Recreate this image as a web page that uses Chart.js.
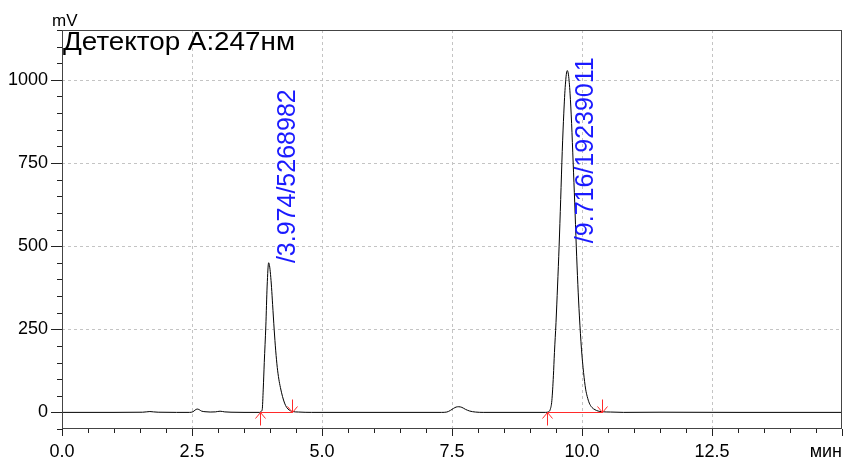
<!DOCTYPE html>
<html>
<head>
<meta charset="utf-8">
<script src="https://cdn.jsdelivr.net/npm/chart.js@4.4.1/dist/chart.umd.min.js"></script>
<style>
  html, body { margin: 0; padding: 0; background: #fff; }
</style>
</head>
<body>
<canvas id="chrom" width="844" height="459"></canvas>
<script>
// retention time, min
const times = [
  0.00, 1.00, 1.55, 1.62, 1.69, 1.76, 1.85, 2.20, 2.45, 2.52, 2.56, 2.60, 2.64, 2.68, 2.75, 2.85,
  2.95, 3.04, 3.13, 3.25, 3.50, 3.80, 3.83, 3.85, 3.87, 3.89, 3.92, 3.945, 3.974, 3.99, 4.01, 4.03,
  4.05, 4.08, 4.11, 4.14, 4.17, 4.20, 4.24, 4.28, 4.32, 4.37, 4.42, 4.55, 4.80, 7.30, 7.40, 7.47,
  7.53, 7.58, 7.63, 7.69, 7.76, 7.84, 7.95, 8.10, 9.30, 9.36, 9.39, 9.42, 9.45, 9.47, 9.50, 9.53,
  9.56, 9.59, 9.62, 9.65, 9.68, 9.716, 9.74, 9.77, 9.80, 9.83, 9.86, 9.89, 9.92, 9.95, 9.99, 10.03,
  10.07, 10.10, 10.14, 10.19, 10.25, 10.31, 10.38, 10.55, 10.80, 11.50, 12.00, 13.00, 15.00
];
// detector signal, mV
const signal = [
  0, 0, 0.5, 1.5, 2.5, 1.5, 0.5, 0, 0, 2, 7, 10, 8, 4, 2, 1,
  1.5, 3.5, 1.5, 0.5, 0, 0, 3, 8, 70, 150, 260, 380, 450, 442, 415, 375,
  325, 250, 185, 135, 100, 75, 48, 28, 15, 7, 3, 1, 0, 0, 1, 6,
  12, 16, 17, 15, 9, 4, 1, 0, 0, 2, 9, 35, 110, 180, 270, 380,
  500, 640, 785, 900, 985, 1028, 1015, 960, 869, 750, 630, 500, 385, 290, 190, 120,
  70, 48, 28, 15, 8, 4, 2, 1, 0, 0.5, 0.3, 0, 0
];

const peakTimes = [3.974, 9.716];
const peakAreas = [5268982, 19239011];
const peakLabelMv = [449, 509];
const peakStart = [3.81, 9.32];
const peakEnd = [4.42, 10.38];

const xTickLabels = ['0.0', '2.5', '5.0', '7.5', '10.0', '12.5'];
const yTickLabels = ['0', '250', '500', '750', '1000'];

const FONT = '"Liberation Sans", Arial, sans-serif';

function isXMajor(v) { return xTickLabels.some(l => Math.abs(Number(l) - v) < 1e-6) || Math.abs(v - 15) < 1e-6; }
function isYMajor(v) { return yTickLabels.some(l => Number(l) === v); }

const decor = {
  id: 'decor',
  beforeDatasetsDraw(chart) {
    const { ctx, chartArea: a, scales: { x, y } } = chart;
    ctx.save();
    ctx.strokeStyle = '#c4c4c4';
    ctx.lineWidth = 1;
    ctx.setLineDash([3, 3]);
    xTickLabels.forEach(l => {
      const v = Number(l);
      if (v <= 0) return;
      const px = Math.round(x.getPixelForValue(v)) + 0.5;
      ctx.beginPath(); ctx.moveTo(px, a.top); ctx.lineTo(px, a.bottom); ctx.stroke();
    });
    yTickLabels.forEach(l => {
      const v = Number(l);
      if (v <= 0) return;
      const py = Math.round(y.getPixelForValue(v)) + 0.5;
      ctx.beginPath(); ctx.moveTo(a.left, py); ctx.lineTo(a.right, py); ctx.stroke();
    });
    ctx.restore();
  },
  afterDatasetsDraw(chart) {
    const { ctx, scales: { x, y } } = chart;
    ctx.save();
    ctx.strokeStyle = '#ff2a2a';
    ctx.lineWidth = 1;
    const y0 = Math.round(y.getPixelForValue(0)) + 0.5;
    peakStart.forEach((s, i) => {
      const sx = Math.round(x.getPixelForValue(s)) + 0.5;
      const ex = Math.round(x.getPixelForValue(peakEnd[i])) + 0.5;
      ctx.beginPath();
      ctx.moveTo(sx, y0); ctx.lineTo(ex, y0);
      // start arrow, pointing up
      ctx.moveTo(sx, y0); ctx.lineTo(sx, y0 + 13);
      ctx.moveTo(sx - 5, y0 + 6); ctx.lineTo(sx, y0); ctx.lineTo(sx + 5, y0 + 6);
      // end arrow, pointing down
      ctx.moveTo(ex, y0 - 13); ctx.lineTo(ex, y0);
      ctx.moveTo(ex - 5, y0 - 6); ctx.lineTo(ex, y0); ctx.lineTo(ex + 5, y0 - 6);
      ctx.stroke();
    });
    ctx.restore();
  },
  afterDraw(chart) {
    const { ctx, chartArea: a, scales: { x, y } } = chart;
    ctx.save();
    // frame
    ctx.strokeStyle = '#444';
    ctx.lineWidth = 1;
    ctx.strokeRect(a.left + 0.5, a.top + 0.5, a.right - a.left - 1, a.bottom - a.top - 1);
    // tick marks
    ctx.strokeStyle = '#222';
    ctx.beginPath();
    x.ticks.forEach(t => {
      const px = Math.round(x.getPixelForValue(t.value)) + 0.5;
      const len = isXMajor(t.value) ? 7 : 4;
      ctx.moveTo(px, a.bottom); ctx.lineTo(px, a.bottom + len);
    });
    y.ticks.forEach(t => {
      const py = Math.round(y.getPixelForValue(t.value)) + 0.5;
      const len = isYMajor(t.value) ? 11 : 5;
      ctx.moveTo(a.left - len, py); ctx.lineTo(a.left, py);
    });
    ctx.stroke();

    // texts
    ctx.fillStyle = '#000';
    ctx.textBaseline = 'alphabetic';
    ctx.font = '17px ' + FONT;
    ctx.textAlign = 'left';
    ctx.fillText('mV', 52, 26);
    ctx.font = '18px ' + FONT;
    ctx.textAlign = 'right';
    ctx.fillText('мин', a.right, 457);

    // detector title, stretched a little to the original's width
    const title = 'Детектор А:247нм';
    ctx.font = '26px ' + FONT;
    ctx.textAlign = 'left';
    const w = ctx.measureText(title).width;
    ctx.save();
    ctx.translate(63, 50);
    ctx.scale(232 / w, 1);
    ctx.fillText(title, 0, 0);
    ctx.restore();

    // peak labels
    ctx.fillStyle = '#1a1aff';
    ctx.font = '25px ' + FONT;
    peakTimes.forEach((t, i) => {
      const px = x.getPixelForValue(t) + 26;
      const py = y.getPixelForValue(peakLabelMv[i]);
      ctx.save();
      ctx.translate(px, py);
      ctx.rotate(-Math.PI / 2);
      ctx.textAlign = 'left';
      ctx.textBaseline = 'alphabetic';
      ctx.fillText('/' + t.toFixed(3) + '/' + peakAreas[i], 0, 0);
      ctx.restore();
    });
    ctx.restore();
  }
};

new Chart(document.getElementById('chrom').getContext('2d'), {
  type: 'line',
  data: {
    datasets: [{
      data: times.map((t, i) => ({ x: t, y: signal[i] })),
      borderColor: '#000',
      borderWidth: 1,
      pointRadius: 0,
      cubicInterpolationMode: 'monotone',
      fill: false
    }]
  },
  options: {
    responsive: false,
    devicePixelRatio: 1,
    animation: false,
    layout: { padding: { top: 30, right: 2, left: 0, bottom: 0 } },
    plugins: { legend: { display: false }, tooltip: { enabled: false } },
    scales: {
      x: {
        type: 'linear',
        min: 0,
        max: 15,
        afterFit(scale) { scale.height = 30; },
        grid: { display: false, drawTicks: true, tickLength: 12 },
        border: { display: false },
        ticks: {
          stepSize: 0.5,
          autoSkip: false,
          maxRotation: 0,
          padding: 0,
          color: '#000',
          font: { family: FONT, size: 18 },
          callback(v) {
            const l = xTickLabels.find(s => Math.abs(Number(s) - v) < 1e-6);
            return l === undefined ? '' : l;
          }
        }
      },
      y: {
        min: -50,
        max: 1150,
        afterFit(scale) { scale.width = 62; },
        grid: { display: false, drawTicks: true, tickLength: 14 },
        border: { display: false },
        ticks: {
          stepSize: 50,
          autoSkip: false,
          padding: 0,
          color: '#000',
          font: { family: FONT, size: 18 },
          callback(v) {
            const l = yTickLabels.find(s => Number(s) === v);
            return l === undefined ? '' : l;
          }
        }
      }
    }
  },
  plugins: [decor]
});
</script>
</body>
</html>
